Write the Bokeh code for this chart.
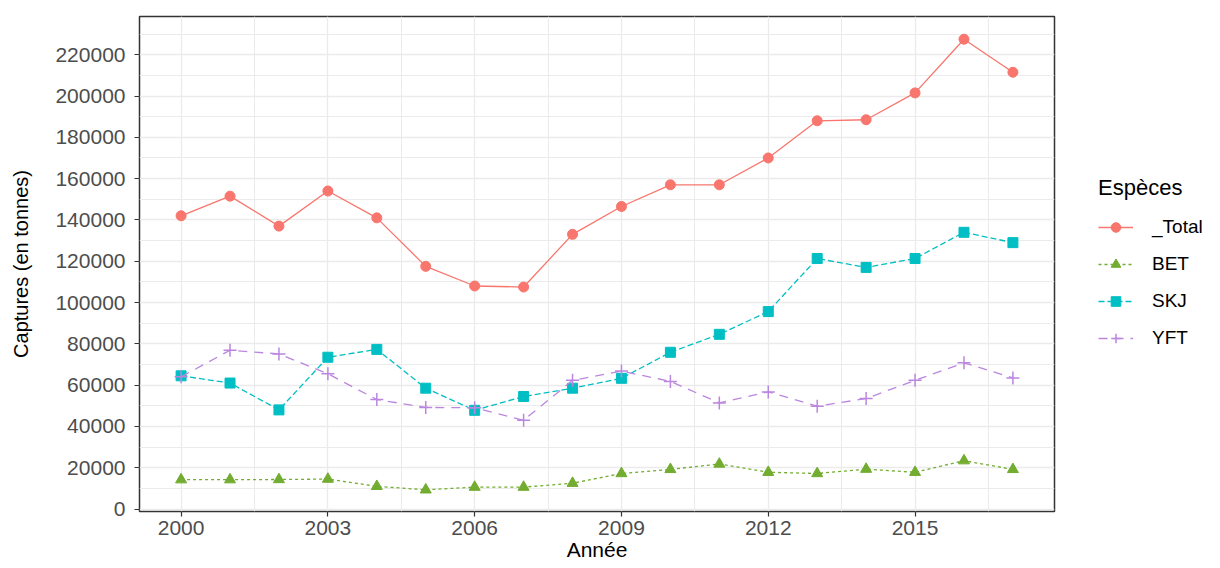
from bokeh.plotting import figure
from bokeh.layouts import row
from bokeh.models import (FixedTicker, Legend, LegendItem, Range1d,
                          ColumnDataSource, BasicTickFormatter)
from bokeh.embed import file_html
from bokeh.resources import INLINE

# ---- data -------------------------------------------------------------
years = list(range(2000, 2018))
total = [142000, 151500, 137000, 154000, 141000, 117500, 108000, 107500, 133000,
         146500, 157000, 157000, 170000, 188000, 188500, 201500, 227500, 211500]
bet = [14200, 14200, 14300, 14500, 11000, 9300, 10600, 10600, 12500,
       17200, 19200, 21800, 17800, 17200, 19300, 17800, 23400, 19200]
skj = [64500, 61000, 48000, 73500, 77300, 58500, 47800, 54500, 58500,
       63300, 75900, 84600, 95600, 121300, 117000, 121300, 134000, 129000]
yft = [64000, 76900, 75100, 65500, 53000, 49200, 49000, 43000, 62300,
       66800, 61800, 51400, 56700, 49800, 53500, 62300, 70800, 63500]

species = ["_Total", "BET", "SKJ", "YFT"]
series = [total, bet, skj, yft]

x_ticks = [2000, 2003, 2006, 2009, 2012, 2015]
x_minor = [2001.5, 2004.5, 2007.5, 2010.5, 2013.5, 2016.5]
y_ticks = list(range(0, 240000, 20000))
y_minor = list(range(10000, 240000, 20000))

x_title = "Année"
y_title = "Captures (en tonnes)"
legend_title = "Espèces"

# ---- styles -----------------------------------------------------------
colors = ["#F8766D", "#72AC30", "#00BFC4", "#BB86E0"]
dashes = ["solid", "3 3", "6 3", "9 7"]
markers = ["circle", "triangle", "square", "cross"]
msizes = [10, 11, 10, 13]
FONT = "Liberation Sans"

p = figure(width=1056, height=568, title=None,
           x_range=Range1d(1999.15, 2017.85), y_range=Range1d(-1200, 238500),
           output_backend="svg", toolbar_location=None,
           min_border_left=139, min_border_right=2,
           min_border_top=16, min_border_bottom=57)

p.background_fill_color = "white"
p.border_fill_color = "white"
p.outline_line_color = "#333333"
p.outline_line_width = 1.5

for g in (p.xgrid, p.ygrid):
    g.grid_line_color = "#EBEBEB"
    g.grid_line_width = 1.3
    g.minor_grid_line_color = "#EBEBEB"
    g.minor_grid_line_width = 1.0

p.xaxis.ticker = FixedTicker(ticks=x_ticks, minor_ticks=x_minor)
p.yaxis.ticker = FixedTicker(ticks=y_ticks, minor_ticks=y_minor)
p.yaxis.formatter = BasicTickFormatter(use_scientific=False)

for ax in (p.xaxis, p.yaxis):
    ax.axis_line_color = None
    ax.major_tick_line_color = "#333333"
    ax.major_tick_line_width = 1.2
    ax.major_tick_out = 5
    ax.major_tick_in = 0
    ax.minor_tick_line_color = None
    ax.major_label_text_font = FONT
    ax.major_label_text_font_size = "21px"
    ax.major_label_text_color = "#4D4D4D"
    ax.axis_label_text_font = FONT
    ax.axis_label_text_font_style = "normal"
    ax.axis_label_text_color = "black"

p.xaxis.major_label_standoff = 4
p.xaxis.axis_label = x_title
p.xaxis.axis_label_text_font_size = "21px"
p.xaxis.axis_label_standoff = 0

p.yaxis.major_label_standoff = 9
p.yaxis.axis_label = y_title
p.yaxis.axis_label_text_font_size = "20px"
p.yaxis.axis_label_standoff = 20

# legend panel (separate figure to the right of the plot)
pl = figure(width=164, height=568, title=None, x_range=Range1d(0, 1),
            y_range=Range1d(0, 1), output_backend="svg", toolbar_location=None,
            min_border_left=0, min_border_right=0, min_border_top=0,
            min_border_bottom=0)
pl.axis.visible = False
pl.grid.visible = False
pl.outline_line_color = None
pl.background_fill_color = "white"
pl.border_fill_color = "white"

items = []
for name, vals, c, d, m, s in zip(species, series, colors, dashes, markers, msizes):
    src = ColumnDataSource(dict(x=years, y=vals))
    line_kw = dict(line_color=c, line_width=1.3, line_dash=d)
    if m == "cross":
        mk_kw = dict(marker=m, size=s, line_color=c, line_width=1.5, fill_color=None)
    else:
        mk_kw = dict(marker=m, size=s, fill_color=c, line_color=c, line_width=1)
    p.line("x", "y", source=src, **line_kw)
    p.scatter("x", "y", source=src, **mk_kw)
    # legend-only proxy renderers, placed outside the legend panel's range
    proxy = ColumnDataSource(dict(x=[-10, -11], y=[-10, -11]))
    lr = pl.line("x", "y", source=proxy, **line_kw)
    sr = pl.scatter("x", "y", source=proxy, **mk_kw)
    items.append(LegendItem(label=name, renderers=[lr, sr]))

legend = Legend(items=items, location=(42, 161), title=legend_title,
                title_text_font=FONT, title_text_font_size="22px",
                title_text_font_style="normal", title_text_color="black",
                title_standoff=14,
                label_text_font=FONT, label_text_font_size="19px",
                label_text_color="black", label_text_baseline="middle",
                glyph_width=35, glyph_height=24, label_height=24, spacing=13,
                label_standoff=19, padding=0, margin=0,
                border_line_color=None, background_fill_alpha=0)
pl.add_layout(legend, "center")

layout = row(p, pl)
open("out.html", "w").write(file_html(layout, INLINE))
